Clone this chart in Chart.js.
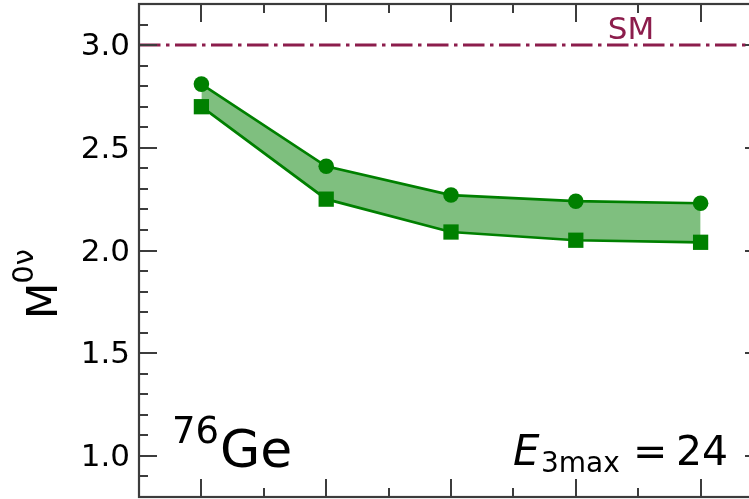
<!DOCTYPE html>
<html>
<head>
<meta charset="utf-8">
<script src="https://cdn.jsdelivr.net/npm/chart.js@4.4.1/dist/chart.umd.min.js"></script>
<style>
  html, body { margin: 0; padding: 0; overflow: hidden; background: #ffffff; }
  #wrap { width: 775px; height: 499px; position: relative; }
</style>
</head>
<body>
<div id="wrap"><canvas id="c" width="775" height="499"></canvas></div>
<script>
// Calculation steps along the horizontal axis
const steps = [1, 2, 3, 4, 5];
// Nuclear matrix element, upper (circles) and lower (squares) bound of the band
const upperM = [2.81, 2.41, 2.27, 2.24, 2.23];
const lowerM = [2.70, 2.25, 2.09, 2.05, 2.04];
// Shell-model reference value
const smValue = 3.0;
// Labelled ticks on the vertical axis
const yTickValues = [1.0, 1.5, 2.0, 2.5, 3.0];
const yMinorStep = 0.1;

const GREEN = '#008000';
const MAROON = '#8c1d4c';
const FONT = "'DejaVu Sans', sans-serif";

const toPoints = (xs, ys) => xs.map((v, i) => ({ x: v, y: ys[i] }));

// Frame, inward ticks on all four sides, and the text annotations
const framePlugin = {
  id: 'frame',
  afterDraw(chart) {
    const { ctx, chartArea: a, scales: { x, y } } = chart;
    ctx.save();
    ctx.strokeStyle = '#3c3c3c';
    ctx.lineWidth = 2;
    ctx.lineCap = 'butt';
    const seg = (x1, y1, x2, y2) => { ctx.beginPath(); ctx.moveTo(x1, y1); ctx.lineTo(x2, y2); ctx.stroke(); };
    const MAJ = 18, MIN = 9;

    // horizontal-axis ticks (top and bottom)
    steps.forEach(v => {
      const px = Math.round(x.getPixelForValue(v));
      seg(px, a.top, px, a.top + MAJ);
      seg(px, a.bottom, px, a.bottom - MAJ);
    });
    for (let v = x.min + 1; v < x.max; v += 1) {
      const px = Math.round(x.getPixelForValue(v));
      seg(px, a.top, px, a.top + MIN);
      seg(px, a.bottom, px, a.bottom - MIN);
    }
    // vertical-axis ticks (left and right)
    yTickValues.forEach(v => {
      const py = Math.round(y.getPixelForValue(v));
      seg(a.left, py, a.left + MAJ, py);
      seg(a.right, py, a.right - MAJ, py);
    });
    for (let k = Math.ceil(y.min / yMinorStep); k * yMinorStep <= y.max + 1e-9; k++) {
      const v = k * yMinorStep;
      if (yTickValues.some(t => Math.abs(t - v) < 1e-6)) continue;
      const py = Math.round(y.getPixelForValue(v));
      seg(a.left, py, a.left + MIN, py);
      seg(a.right, py, a.right - MIN, py);
    }
    // frame
    ctx.lineWidth = 2.2;
    ctx.strokeRect(a.left, a.top, a.right - a.left, a.bottom - a.top);

    ctx.textBaseline = 'alphabetic';

    // "SM" label above the reference line
    ctx.fillStyle = MAROON;
    ctx.font = `31px ${FONT}`;
    ctx.textAlign = 'center';
    ctx.fillText('SM', a.left + 492, a.top + 35);

    // nucleus label
    ctx.fillStyle = '#000';
    ctx.textAlign = 'left';
    ctx.font = `37px ${FONT}`;
    ctx.fillText('76', a.left + 33, a.top + 439);
    ctx.font = `52px ${FONT}`;
    ctx.fillText('Ge', a.left + 81, a.top + 463);

    // E_3max = 24
    ctx.font = `italic 42px ${FONT}`;
    ctx.fillText('E', a.left + 374, a.top + 461);
    ctx.font = `28px ${FONT}`;
    ctx.fillText('3max', a.left + 402, a.top + 468);
    ctx.font = `41px ${FONT}`;
    ctx.fillText('=', a.left + 494, a.top + 461);
    ctx.fillText('24', a.left + 537, a.top + 461);

    // vertical axis title M^{0ν}
    ctx.save();
    ctx.translate(57, 319);
    ctx.rotate(-Math.PI / 2);
    ctx.font = `42px ${FONT}`;
    ctx.fillText('M', 0, 0);
    const w = ctx.measureText('M').width;
    ctx.font = `29px ${FONT}`;
    ctx.fillText('0\u03bd', w - 1, -24);
    ctx.restore();

    ctx.restore();
  }
};

new Chart(document.getElementById('c'), {
  type: 'line',
  data: {
    datasets: [
      {
        label: 'upper',
        data: toPoints(steps, upperM),
        borderColor: GREEN,
        backgroundColor: 'rgba(0,128,0,0.5)',
        borderWidth: 2.7,
        pointStyle: 'circle',
        pointRadius: 7.8,
        pointBackgroundColor: GREEN,
        pointBorderColor: GREEN,
        pointBorderWidth: 0,
        fill: '+1',
        tension: 0
      },
      {
        label: 'lower',
        data: toPoints(steps, lowerM),
        borderColor: GREEN,
        borderWidth: 2.7,
        pointStyle: 'rect',
        pointRadius: 10.8,
        pointBackgroundColor: GREEN,
        pointBorderColor: GREEN,
        pointBorderWidth: 0,
        fill: false,
        tension: 0
      },
      {
        label: 'SM',
        data: [{ x: 0.5, y: smValue }, { x: 5.5, y: smValue }],
        borderColor: MAROON,
        borderWidth: 3,
        borderDash: [21.5, 5.5, 3.5, 5.5],
        borderCapStyle: 'butt',
        pointRadius: 0,
        fill: false
      }
    ]
  },
  options: {
    responsive: false,
    animation: false,
    devicePixelRatio: 1,
    layout: { autoPadding: false, padding: { left: 0, top: 4, right: 12, bottom: 2 } },
    plugins: { legend: { display: false }, tooltip: { enabled: false } },
    scales: {
      x: {
        type: 'linear',
        min: 0.5,
        max: 5.5,
        display: false
      },
      y: {
        type: 'linear',
        min: 0.8,
        max: 3.2,
        afterFit: s => { s.width = 139; s.paddingTop = 0; s.paddingBottom = 0; },
        afterBuildTicks: s => { s.ticks = yTickValues.map(v => ({ value: v })); },
        grid: { display: false, drawTicks: false },
        border: { display: false },
        ticks: {
          padding: 9,
          labelOffset: 2,
          color: '#000',
          font: { family: 'DejaVu Sans', size: 31 },
          callback: v => Number(v).toFixed(1)
        }
      }
    }
  },
  plugins: [framePlugin]
});
</script>
</body>
</html>
